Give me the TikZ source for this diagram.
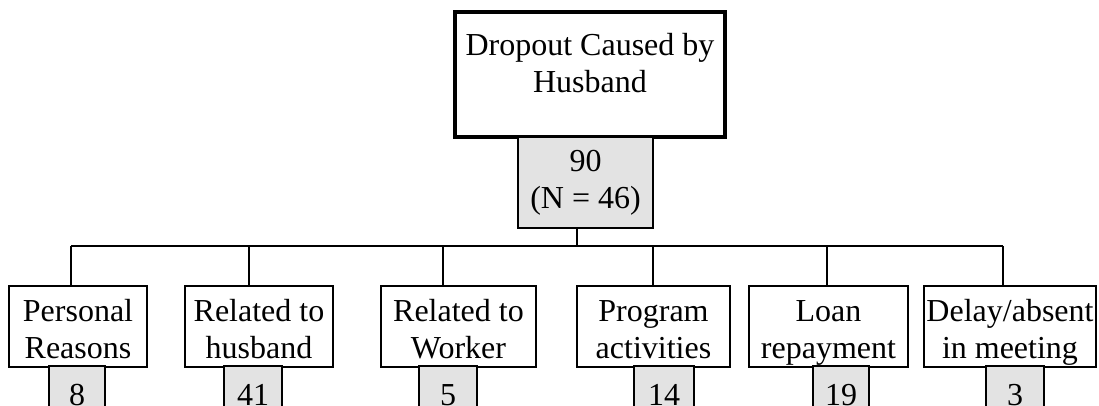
\documentclass[tikz,border=0pt]{standalone}
\usepackage{fontspec}
\setmainfont{Liberation Serif}
\newcommand{\toppad}{\rule{0pt}{18pt}}
\newcommand{\botpad}{\rule[-4pt]{0pt}{1pt}}
\begin{document}
\begin{tikzpicture}[x=0.5pt,y=-0.5pt,
  every node/.style={inner sep=0pt, font=\fontsize{16}{18.5}\selectfont, align=center},
  headbox/.style={draw, line width=2pt, minimum width=135pt, minimum height=62.5pt},
  countbox/.style={draw, line width=1.3pt, fill=gray!22},
  catbox/.style={draw, line width=1.3pt, fill=white, minimum height=39.5pt},
  conn/.style={draw, line width=0.8pt}]
\useasboundingbox (0,0) rectangle (1099,406);
\clip (0,0) rectangle (1099,406);

% head of the tree
\node[headbox] (head) at (590,74.5) {Dropout Caused by\\Husband\rule[-11.5pt]{0pt}{1pt}};
\node[countbox, minimum width=67.5pt, minimum height=45.5pt] (total) at (585.5,182.5) {90\\(N = 46)};

% junctions on the bus line
\coordinate (j0) at (577,246);
\coordinate (d1) at (71,246);
\coordinate (d2) at (249,246);
\coordinate (d3) at (443,246);
\coordinate (d4) at (653,246);
\coordinate (d5) at (827,246);
\coordinate (d6) at (1003,246);

% categories
\node[catbox, minimum width=69pt]   (c1) at (78,326.5)   {\toppad Personal\\Reasons\botpad};
\node[catbox, minimum width=74pt]   (c2) at (259,326.5)  {\toppad Related to\\husband\botpad};
\node[catbox, minimum width=77.5pt] (c3) at (458.5,326.5){\toppad Related to\\Worker\botpad};
\node[catbox, minimum width=76.5pt] (c4) at (653.5,326.5){\toppad Program\\activities\botpad};
\node[catbox, minimum width=79.5pt] (c5) at (828.5,326.5){\toppad Loan\\repayment\botpad};
\node[catbox, minimum width=86pt]   (c6) at (1010,326.5) {\toppad Delay/absent\\in meeting\botpad};

% counts per category
\node[countbox, minimum width=28pt, minimum height=29pt] (n1) at (77,395)   {8};
\node[countbox, minimum width=29pt, minimum height=29pt] (n2) at (253,395)  {41};
\node[countbox, minimum width=29pt, minimum height=29pt] (n3) at (448,395)  {5};
\node[countbox, minimum width=30pt, minimum height=29pt] (n4) at (664,395)  {14};
\node[countbox, minimum width=28pt, minimum height=29pt] (n5) at (841,395)  {19};
\node[countbox, minimum width=29pt, minimum height=29pt] (n6) at (1015,395) {3};

% connectors
\path[conn] (total.south -| j0) -- (j0);
\path[conn] (d1) -- (d6);
\path[conn] (d1) -- (d1 |- c1.north);
\path[conn] (d2) -- (d2 |- c2.north);
\path[conn] (d3) -- (d3 |- c3.north);
\path[conn] (d4) -- (d4 |- c4.north);
\path[conn] (d5) -- (d5 |- c5.north);
\path[conn] (d6) -- (d6 |- c6.north);
\end{tikzpicture}
\end{document}
